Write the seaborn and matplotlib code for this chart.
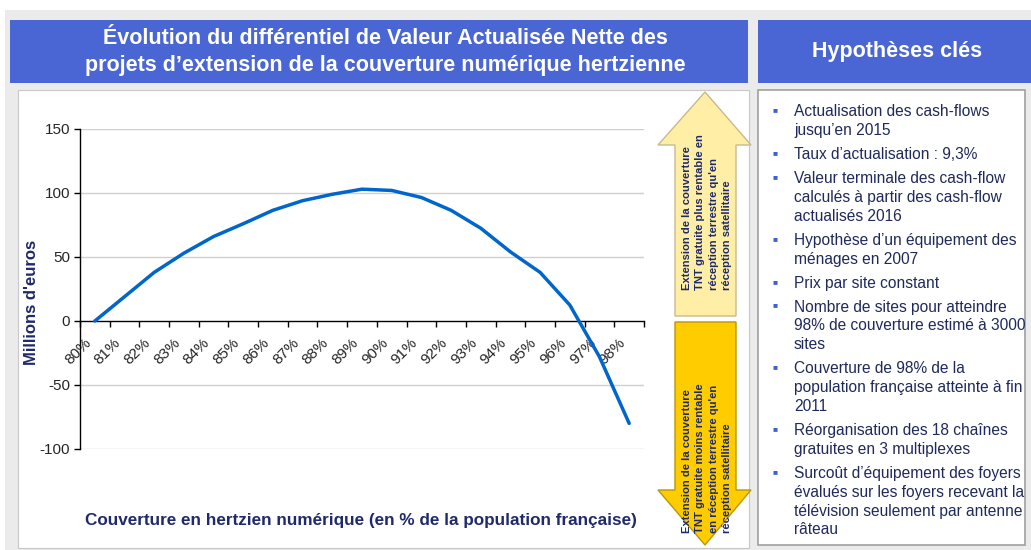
import matplotlib
matplotlib.use("Agg")
import matplotlib.pyplot as plt
from matplotlib.patches import Rectangle, Polygon
from matplotlib.transforms import ScaledTranslation
import seaborn as sns
import pandas as pd

# data
couverture = ["80%", "81%", "82%", "83%", "84%", "85%", "86%", "87%", "88%", "89%",
              "90%", "91%", "92%", "93%", "94%", "95%", "96%", "97%", "98%"]
differentiel_van = [0, 19, 38, 53, 66, 76, 86.5, 94, 99, 103,
                    102, 96.5, 86.5, 72.5, 54, 38, 12.5, -28, -80]
y_ticks = [-100, -50, 0, 50, 100, 150]

titre = ("Évolution du différentiel de Valeur Actualisée Nette des\n"
         "projets d’extension de la couverture numérique hertzienne")
titre_droite = "Hypothèses clés"
label_y = "Millions d'euros"
label_x = "Couverture en hertzien numérique (en % de la population française)"
fleche_haut = ("Extension de la couverture\nTNT gratuite plus rentable en\n"
               "réception terrestre qu'en\nréception satellitaire")
fleche_bas = ("Extension de la couverture\nTNT gratuite moins rentable\n"
              "en réception terrestre qu'en\nréception satellitaire")
hypotheses = [
    "Actualisation des cash-flows\njusqu’en 2015",
    "Taux d’actualisation : 9,3%",
    "Valeur terminale des cash-flow\ncalculés à partir des cash-flow\nactualisés 2016",
    "Hypothèse d’un équipement des\nménages en 2007",
    "Prix par site constant",
    "Nombre de sites pour atteindre\n98% de couverture estimé à 3000\nsites",
    "Couverture de 98% de la\npopulation française atteinte à fin\n2011",
    "Réorganisation des 18 chaînes\ngratuites en 3 multiplexes",
    "Surcoût d’équipement des foyers\névalués sur les foyers recevant la\ntélévision seulement par antenne\nrâteau",
]

sns.set_style("white")
plt.rcParams["font.family"] = ["Liberation Sans", "DejaVu Sans"]

W, H = 1031, 550
fig = plt.figure(figsize=(W / 100, H / 100), dpi=100)
navy = "#1F2A6B"
bande = "#4A66D4"


def px(x, y):
    return (x / W, 1 - y / H)


def rect(x0, y0, x1, y1, **kw):
    fig.patches.append(Rectangle(px(x0, y1), (x1 - x0) / W, (y1 - y0) / H,
                                 transform=fig.transFigure, **kw))


# backgrounds (behind the axes)
rect(5, 10, 1031, 550, facecolor="#EBEBEB", edgecolor="none", zorder=-3)
rect(18, 90, 749, 548, facecolor="white", edgecolor="#C8C8C8", lw=0.8, zorder=-2)
rect(758, 90, 1025, 545, facecolor="white", edgecolor="#A0A0A0", lw=1.2, zorder=-2)
rect(10, 20, 748, 83, facecolor=bande, edgecolor="none", zorder=-1)
rect(758, 20, 1031, 83, facecolor=bande, edgecolor="none", zorder=-1)

fig.text(*px(385, 52), titre, color="white", fontsize=15.5, fontweight="bold",
         ha="center", va="center", linespacing=1.4)
fig.text(*px(897, 52), titre_droite, color="white", fontsize=15.5, fontweight="bold",
         ha="center", va="center")

# chart
ax = fig.add_axes([80 / W, 1 - 449 / H, 564 / W, 320 / H])
ax.patch.set_alpha(0)
df = pd.DataFrame({"couverture": couverture, "van": differentiel_van})
sns.lineplot(data=df, x="couverture", y="van", ax=ax, color="#0066CC", lw=2.5,
             sort=False, zorder=3)
ax.set_xlim(-0.5, len(couverture) - 0.5)
ax.set_ylim(min(y_ticks), max(y_ticks))
ax.set_yticks(y_ticks)
ax.set_yticklabels([str(v) for v in y_ticks], fontsize=11)
for v in y_ticks:
    if v != 0:
        ax.axhline(v, color="#D0D0D0", lw=1, zorder=0)
for s in ["top", "right"]:
    ax.spines[s].set_visible(False)
ax.spines["bottom"].set_position(("data", 0))
for s in ["left", "bottom"]:
    ax.spines[s].set_color("black")
    ax.spines[s].set_linewidth(1)
ax.tick_params(axis="y", length=4, width=1, color="black", left=True, pad=3)

ax.set_xticks(range(len(couverture)))
ax.set_xticklabels(couverture, fontsize=11, rotation=45, ha="right", va="center",
                   rotation_mode="anchor")
ax.tick_params(axis="x", which="major", length=0, pad=14)
ax.set_xticks([i - 0.5 for i in range(len(couverture) + 1)], minor=True)
ax.tick_params(axis="x", which="minor", length=4, width=1, color="black",
               bottom=True, direction="out")
shift = ScaledTranslation(-6 / 100, 0, fig.dpi_scale_trans)
for lab in ax.get_xticklabels():
    lab.set_transform(lab.get_transform() + shift)
ax.set_xlabel("")
ax.set_ylabel("")

fig.text(*px(32, 302), label_y, color=navy, fontsize=12, fontweight="bold",
         rotation=90, ha="center", va="center")
fig.text(*px(361, 520), label_x, color=navy, fontsize=12.3, fontweight="bold",
         ha="center", va="center")

# arrows
up = [(705, 92), (751, 145), (736, 145), (736, 316), (675, 316), (675, 145), (658, 145)]
dn = [(675, 322), (736, 322), (736, 490), (751, 490), (705, 545), (658, 490), (675, 490)]
fig.patches.append(Polygon([px(*p) for p in up], closed=True, transform=fig.transFigure,
                           facecolor="#FFEFA6", edgecolor="#C9B98A", lw=1, zorder=2))
fig.patches.append(Polygon([px(*p) for p in dn], closed=True, transform=fig.transFigure,
                           facecolor="#FFCC00", edgecolor="#B8960A", lw=1, zorder=2))
fig.text(*px(707, 290), fleche_haut, color=navy, fontsize=8.1, fontweight="bold",
         rotation=90, ha="center", va="bottom", linespacing=1.45, multialignment="left")
fig.text(*px(707, 533), fleche_bas, color=navy, fontsize=8.1, fontweight="bold",
         rotation=90, ha="center", va="bottom", linespacing=1.45, multialignment="left")

# hypotheses
y = 112
for item in hypotheses:
    fig.text(*px(775, y - 1), "\u25a0", color="#4060D0", fontsize=6, ha="center",
             va="center")
    for ln in item.split("\n"):
        fig.text(*px(794, y), ln, color="#1F2A5A", fontsize=11.2, ha="left", va="center")
        y += 18.9
    y += 5

fig.savefig("out.png", dpi=100)
